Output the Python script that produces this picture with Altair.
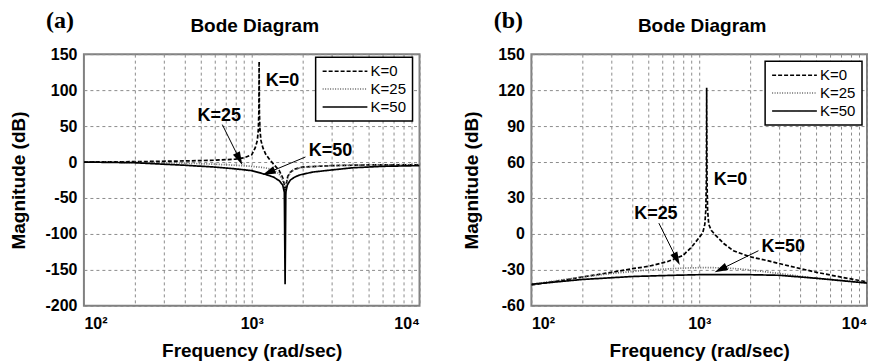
import math
import altair as alt
import pandas as pd

SERIES = ["K=0", "K=25", "K=50"]

# ---------------- Panel (a) data ----------------
a_f_k0 = [100, 200, 400, 600, 800, 900, 1000, 1050, 1080, 1095, 1103, 1107, 1111, 1120, 1135,
          1165, 1210, 1274, 1350, 1460, 1530, 1570, 1585, 1600, 1640, 1700, 1800, 2000, 3000, 5000, 10000]
a_d_k0 = [0, 0.5, 1.5, 2.5, 4, 6, 10, 20, 30, 45, 70, 140, 70, 45, 30,
          20, 11, 4, -3, -12, -22, -33, -45, -33, -20, -14, -10, -7, -5, -4, -4]

a_f_k25 = [100, 200, 400, 600, 800, 1000, 1200, 1350, 1450, 1520, 1560, 1585, 1610, 1650, 1720,
           1850, 2100, 2600, 3500, 5000, 10000]
a_d_k25 = [0, -0.5, -1.5, -3, -4.5, -6, -8, -11, -16, -24, -32, -42, -30, -20, -13,
           -9, -7, -5.5, -4.5, -4, -3.5]

a_f_k50 = [100, 200, 400, 600, 800, 1000, 1200, 1350, 1460, 1530, 1565, 1581, 1597, 1630, 1700,
           1800, 1930, 2300, 3000, 4000, 6000, 10000]
a_d_k50 = [0, -1, -4.5, -7, -9.5, -12, -17, -21, -26, -32, -42, -170, -42, -32, -25,
           -21, -18, -14, -11, -8, -6, -5]

# ---------------- Panel (b) data ----------------
b_f_k0 = [100, 150, 200, 300, 400, 500, 650, 800, 900, 1000, 1050, 1080, 1095, 1103, 1108,
          1113, 1122, 1140, 1180, 1250, 1400, 1600, 2000, 2500, 3500, 5000, 7000, 10000]
b_d_k0 = [-42.5, -39, -36, -32, -29, -27, -23, -18, -11, -3, 1, 8, 20, 45, 122,
          45, 20, 8, 3, -1, -8, -14, -19, -22, -27, -32, -36, -40]

b_f_k25 = [100, 200, 300, 500, 800, 1100, 1500, 2000, 3000, 5000, 10000]
b_d_k25 = [-42, -36, -33, -30, -28.5, -28, -28.5, -30, -33, -37, -40.5]

b_f_k50 = [100, 200, 400, 700, 1000, 2000, 3000, 5000, 10000]
b_d_k50 = [-42, -38, -35.5, -34.5, -34, -34, -34.5, -37, -41]

# ---------------- ticks ----------------
X_VALUES = [100, 200, 300, 400, 500, 600, 700, 800, 900,
            1000, 2000, 3000, 4000, 5000, 6000, 7000, 8000, 9000, 10000]
A_YTICKS = [-200, -150, -100, -50, 0, 50, 100, 150]
B_YTICKS = [-60, -30, 0, 30, 60, 90, 120, 150]

# ---------------- annotations (data coordinates) ----------------
a_labels = ["K=0", "K=25", "K=50"]
a_label_f = [1524, 641, 2952]
a_label_d = [112, 64, 16]
a_arrow_from_f = [668, 2090]
a_arrow_from_d = [52, 7]
a_arrow_to_f = [879, 1159]
a_arrow_to_d = [-4, -18]

b_labels = ["K=0", "K=25", "K=50"]
b_label_f = [1538, 552, 3170]
b_label_d = [45, 17, -11]
b_arrow_from_f = [575, 2255]
b_arrow_from_d = [9, -14]
b_arrow_to_f = [766, 1236]
b_arrow_to_d = [-26, -32]

PANEL_TITLE = "Bode Diagram"
X_TITLE = "Frequency (rad/sec)"
Y_TITLE = "Magnitude (dB)"

W, H = 336, 252
FONT = "Liberation Sans"
HEAD_SIZE = 196  # arrow head symbol area
HEAD_PATH = "M0,-1L0.55,0.9L-0.55,0.9Z"


def long_df(items):
    rows = []
    for name, fs, ds in items:
        for f, d in zip(fs, ds):
            rows.append({"f": f, "d": d, "K": name})
    return pd.DataFrame(rows)


def arrow_df(ff, fd, tf, td, ydom):
    ymin, ymax = ydom

    def px(f):
        return W * (math.log10(f) - 2) / 2

    def py(d):
        return H * (ymax - d) / (ymax - ymin)

    def inv(x, y):
        return 10 ** (2 + 2 * x / W), ymax - y * (ymax - ymin) / H

    r = math.sqrt(HEAD_SIZE) / 2
    rows = []
    for f1, d1, f2, d2 in zip(ff, fd, tf, td):
        sx, sy, ex, ey = px(f1), py(d1), px(f2), py(d2)
        L = math.hypot(ex - sx, ey - sy)
        ux, uy = (ex - sx) / L, (ey - sy) / L
        ang = math.degrees(math.atan2(ux, -uy)) % 360
        hf, hd = inv(ex - ux * r, ey - uy * r)
        rows.append({"f1": f1, "d1": d1, "fh": hf, "dh": hd, "ang": ang})
    return pd.DataFrame(rows)


def panel(df, ydom, yticks, labels, lf, ld, arrows, letter, legx, legy, ytitle_pad, tagx):
    xs = alt.Scale(type="log", domain=[100, 10000], nice=False)
    ys = alt.Scale(domain=list(ydom), nice=False, zero=False)
    legend = alt.Legend(
        orient="none", legendX=legx, legendY=legy, title=None,
        symbolType="M-1,0H5.4", symbolSize=196, labelOffset=33,
        padding=6, rowPadding=2, labelFont=FONT, labelFontSize=15,
        labelColor="black", strokeColor="black", fillColor="white",
    )
    label_expr = ("datum.value == 100 ? '10\u00b2' : datum.value == 1000 ? '10\u00b3' : "
                  "datum.value == 10000 ? '10\u2074' : ''")
    xaxis = alt.Axis(values=X_VALUES, labelExpr=label_expr, labelFlush=True, labelOverlap=False,
                     title=X_TITLE, labelPadding=10, titlePadding=10)
    yaxis = alt.Axis(values=yticks, title=Y_TITLE, labelExpr="'' + datum.value",
                     labelPadding=7, titlePadding=ytitle_pad)

    def X(field):
        return alt.X(field, scale=xs, axis=xaxis)

    def Y(field):
        return alt.Y(field, scale=ys, axis=yaxis)

    lines = alt.Chart(df).mark_line(clip=True, strokeWidth=1.7).encode(
        x=X("f:Q"), y=Y("d:Q"),
        color=alt.Color("K:N", scale=alt.Scale(domain=SERIES, range=["black", "#666666", "black"]),
                        legend=legend),
        strokeDash=alt.StrokeDash("K:N", scale=alt.Scale(domain=SERIES, range=[[4, 2], [1, 1.5], [1, 0]]),
                                  legend=legend),
    )
    ann_df = pd.DataFrame({"f": lf, "d": ld, "t": labels})
    texts = alt.Chart(ann_df).mark_text(font=FONT, fontSize=18, fontWeight="bold", color="black",
                                        align="center", baseline="middle").encode(
        x=X("f:Q"), y=Y("d:Q"), text="t:N")
    rules = alt.Chart(arrows).mark_rule(color="black", strokeWidth=1).encode(
        x=X("f1:Q"), y=Y("d1:Q"), x2="fh:Q", y2="dh:Q")
    heads = alt.Chart(arrows).mark_point(shape=HEAD_PATH, filled=True, color="black", opacity=1,
                                         size=HEAD_SIZE).encode(
        x=X("fh:Q"), y=Y("dh:Q"), angle=alt.Angle("ang:Q", scale=None))
    tag = alt.Chart(pd.DataFrame({"lab": [letter]})).mark_text(
        font="Liberation Serif", fontSize=24, fontWeight="bold", color="black",
        align="center", baseline="top").encode(
        text="lab:N", x=alt.value(tagx), y=alt.value(-45))
    ttl = alt.Chart(pd.DataFrame({"lab": [PANEL_TITLE]})).mark_text(
        font=FONT, fontSize=19, fontWeight="bold", color="black",
        align="center", baseline="alphabetic").encode(
        text="lab:N", x=alt.value(W / 2 + 3), y=alt.value(-22))
    return alt.layer(lines, rules, heads, texts, tag, ttl).properties(width=W, height=H)


A_YDOM = (-200, 150)
B_YDOM = (-60, 150)

df_a = long_df([("K=0", a_f_k0, a_d_k0), ("K=25", a_f_k25, a_d_k25), ("K=50", a_f_k50, a_d_k50)])
df_b = long_df([("K=0", b_f_k0, b_d_k0), ("K=25", b_f_k25, b_d_k25), ("K=50", b_f_k50, b_d_k50)])

arr_a = arrow_df(a_arrow_from_f, a_arrow_from_d, a_arrow_to_f, a_arrow_to_d, A_YDOM)
arr_b = arrow_df(b_arrow_from_f, b_arrow_from_d, b_arrow_to_f, b_arrow_to_d, B_YDOM)

pa = panel(df_a, A_YDOM, A_YTICKS, a_labels, a_label_f, a_label_d, arr_a, "(a)", 232, 3, 16, -24)
pb = panel(df_b, B_YDOM, B_YTICKS, b_labels, b_label_f, b_label_d, arr_b, "(b)", 234, 7, 16, -23)

chart = alt.hconcat(pa, pb, spacing=112, bounds="flush").resolve_scale(
    color="independent", strokeDash="independent"
).resolve_legend(
    color="independent", strokeDash="independent"
).properties(
    padding={"left": 0, "top": 0, "right": 0, "bottom": 0}
).configure_view(
    stroke="#808080", strokeWidth=2
).configure_axis(
    labelFont=FONT, labelFontSize=16, labelFontWeight="bold", labelColor="black",
    titleFont=FONT, titleFontSize=19, titleFontWeight="bold", titleColor="black",
    grid=True, gridColor="#8c8c8c", gridDash=[3, 3], gridWidth=1, gridOpacity=1,
    domain=False, ticks=False, tickSize=0
).configure_legend(
    strokeWidth=1.5
)

chart.save("out.html", embed_options={"renderer": "svg", "actions": False})
